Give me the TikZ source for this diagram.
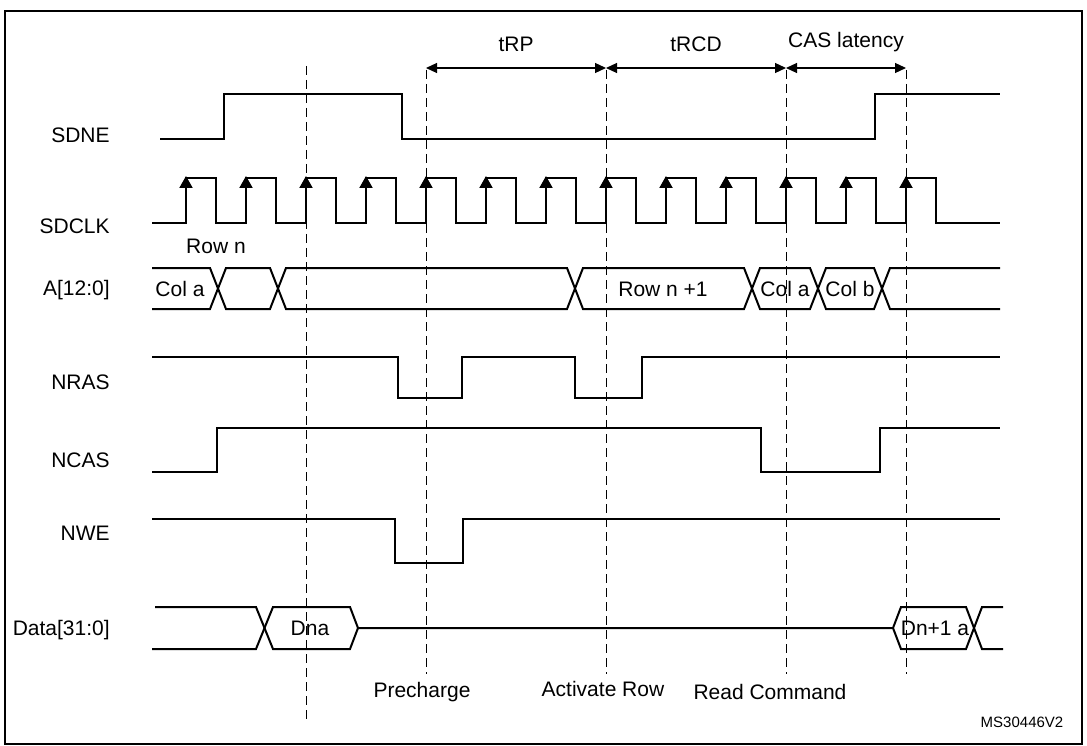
\documentclass[tikz,border=0pt]{standalone}
\usepackage{fontspec}
\setmainfont{Liberation Sans}
\usetikzlibrary{arrows.meta,positioning}
\begin{document}
\begin{tikzpicture}[x=1pt, y=-1pt, line width=2pt,
  sig/.style={anchor=east, font=\fontsize{21}{24}\selectfont},
  txt/.style={font=\fontsize{21}{24}\selectfont},
  tip/.style={-{Triangle[length=12pt,width=13pt]}},
  guide/.style={line width=0.9pt, dash pattern=on 9pt off 5pt}]
   \useasboundingbox (0,0) rectangle (1087,746);
   \draw[line width=1.2pt] (5,11) rectangle (1082,744);
   % signal names
   \begin{scope}[every node/.style={sig}]
    \node (sdne) at (114,135) {SDNE};
    \node (sdclk) at (114,226) {SDCLK};
    \node (addr) at (114,290) {A[12:0]};
    \node (nras) at (114,382) {NRAS};
    \node (ncas) at (114,460) {NCAS};
    \node (nwe) at (114,533) {NWE};
    \node (data) at (114,630) {Data[31:0]};
   \end{scope}
   % guides
   \draw[guide] (306,66) -- (306,722);
   \foreach \x in {426,606,786,906}
     \draw[guide] (\x,70) -- (\x,674);
   % timing intervals
   \coordinate (t0) at (426,68);
   \coordinate (t1) at (606,68);
   \coordinate (t2) at (786,68);
   \coordinate (t3) at (906,68);
   \begin{scope}[line width=1.2pt, {Triangle[length=11pt,width=10pt]}-{Triangle[length=11pt,width=10pt]}]
    \draw (t0) -- node[txt, above=12pt] {tRP} (t1);
    \draw (t1) -- node[txt, above=12pt] {tRCD} (t2);
    \draw (t2) -- node[txt, above=12pt] {CAS latency} (t3);
   \end{scope}
   % SDNE
   \draw (160,139) -- (224,139) -- (224,94) -- (402,94) -- (402,139) -- (875,139) -- (875,94) -- (1000,94);
   % SDCLK
   \draw (152,223) foreach \x in {186,246,...,906} { -- (\x,223) -- (\x,178) -- (\x+30,178) -- (\x+30,223) } -- (1000,223);
   \foreach \x in {186,246,...,906}
     \draw[tip] (\x,200) -- (\x,176);
   % A[12:0]
   \draw (152,268) -- (210,268) -- (226,309) -- (270,309) -- (286,268) -- (567,268) -- (583,309) -- (744,309) -- (760,268) -- (810,268) -- (826,309) -- (874,309) -- (890,268) -- (1000,268);
   \draw (152,309) -- (210,309) -- (226,268) -- (270,268) -- (286,309) -- (567,309) -- (583,268) -- (744,268) -- (760,309) -- (810,309) -- (826,268) -- (874,268) -- (890,309) -- (1000,309);
   \node[txt] (cola) at (180,289) {Col a};
   \node[txt] (rown) at (216,246) {Row n};
   \node[txt] (rowm) at (663,289) {Row n +1};
   \node[txt] (colb) at (785,289) {Col a};
   \node[txt] (colc) at (850,289) {Col b};
   % NRAS
   \draw (152,357) -- (398,357) -- (398,398) -- (462,398) -- (462,357) -- (575,357) -- (575,398) -- (642,398) -- (642,357) -- (1000,357);
   % NCAS
   \draw (152,472) -- (217,472) -- (217,428) -- (761,428) -- (761,472) -- (880,472) -- (880,428) -- (1000,428);
   % NWE
   \draw (152,519) -- (395,519) -- (395,563) -- (463,563) -- (463,519) -- (1000,519);
   % Data[31:0]
   \draw (155,607) -- (256,607) -- (273,649) -- (350,649) -- (358,628) -- (893,628) -- (901,607) -- (966,607) -- (982,649) -- (1003,649);
   \draw (152,649) -- (256,649) -- (273,607) -- (350,607) -- (358,628);
   \draw (893,628) -- (901,649) -- (966,649) -- (982,607) -- (1003,607);
   \node[txt] (dna) at (310,628) {Dna};
   \node[txt] (dnb) at (935,628) {Dn+1 a};
   % events
   \node[txt] (pre) at (422,692) {Precharge};
   \node[txt] (act) at (603,689) {Activate Row};
   \node[txt] (rd) at (770,692) {Read Command};
   \node[font=\fontsize{15}{17}\selectfont] (ref) at (1022,722) {MS30446V2};
\end{tikzpicture}
\end{document}
